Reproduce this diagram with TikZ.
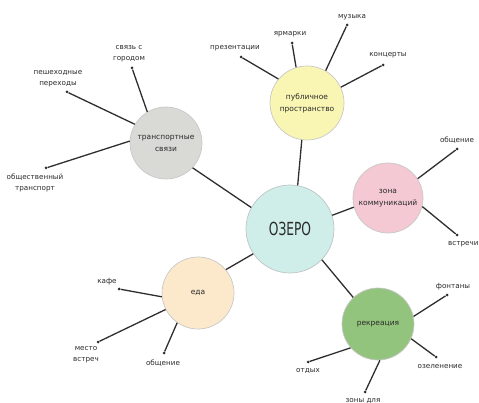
\documentclass[tikz,border=0pt]{standalone}
\usepackage{fontspec}
\setmainfont{DejaVu Sans}
\definecolor{cOzero}{HTML}{CFEEE9}
\definecolor{cPub}{HTML}{F9F5B3}
\definecolor{cZona}{HTML}{F4C9D3}
\definecolor{cRek}{HTML}{93C47D}
\definecolor{cTr}{HTML}{D9D9D6}
\definecolor{cEda}{HTML}{FCE9CC}
\definecolor{cLine}{HTML}{2E2E2E}
\definecolor{cText}{HTML}{2A2A2A}
\definecolor{cBorder}{HTML}{C8C8C8}
\begin{document}
\begin{tikzpicture}[x=1pt,y=-1pt,
  hub/.style={circle,draw=cBorder,line width=0.7pt,inner sep=0pt,align=center,
    text=cText,font=\fontsize{7.5}{12}\selectfont},
  leafdot/.style={circle,fill=cLine,inner sep=0pt,minimum size=3pt},
  leaflabel/.style={align=center,text=cText,inner sep=0pt,font=\fontsize{7.2}{11}\selectfont},
  conn/.style={draw=cLine,line width=1.3pt}]
\useasboundingbox (0,0) rectangle (479,403);
% hubs
\node[hub,fill=cOzero,draw=cOzero!80!black!30!cBorder,minimum size=88pt] (ozero) at (290,229)
  {\fontsize{18}{20}\selectfont\scalebox{0.68}[1]{ОЗЕРО}};
\node[hub,fill=cPub,minimum size=74pt] (pub) at (307,103) {публичное\\пространство};
\node[hub,fill=cZona,minimum size=70pt] (zona) at (388,198) {зона\\коммуникаций};
\node[hub,fill=cRek,minimum size=72pt] (rek) at (378,324) {рекреация};
\node[hub,fill=cTr,minimum size=72pt] (tr) at (166,143) {транспортные\\связи};
\node[hub,fill=cEda,minimum size=72pt] (eda) at (198,293) {еда};
% hub connectors
\draw[conn] (ozero.151) -- (tr.-43);
\draw[conn] (ozero.80) -- (pub.-98);
\draw[conn] (ozero.18) -- (zona.195);
\draw[conn] (ozero.-44) -- (rek.133);
\draw[conn] (ozero.214) -- (eda.40);
% transport leaves
\node[leafdot] (t1) at (132,68) {};
\node[leaflabel] (t1l) at (129,54) {связь с\\городом};
\node[leafdot] (t2) at (67,92) {};
\node[leaflabel] (t2l) at (58,79) {пешеходные\\переходы};
\node[leafdot] (t3) at (46,168) {};
\node[leaflabel] (t3l) at (35,183) {общественный\\транспорт};
\draw[conn] (t1) -- (tr.121);
\draw[conn] (t2) -- (tr.149);
\draw[conn] (t3) -- (tr.177);
% public leaves
\node[leafdot] (p1) at (241,57) {};
\node[leaflabel] (p1l) at (235,48) {презентации};
\node[leafdot] (p2) at (292,43) {};
\node[leaflabel] (p2l) at (290,34) {ярмарки};
\node[leafdot] (p3) at (347,25) {};
\node[leaflabel] (p3l) at (352,17) {музыка};
\node[leafdot] (p4) at (383,65) {};
\node[leaflabel] (p4l) at (388,55) {концерты};
\draw[conn] (p1) -- (pub.140);
\draw[conn] (p2) -- (pub.107);
\draw[conn] (p3) -- (pub.60);
\draw[conn] (p4) -- (pub.25);
% zona leaves
\node[leafdot] (z1) at (457,149) {};
\node[leaflabel] (z1l) at (457,140) {общение};
\node[leafdot] (z2) at (457,235) {};
\node[leaflabel,anchor=west] (z2l) at (448,244) {встречи};
\draw[conn] (z1) -- (zona.33);
\draw[conn] (z2) -- (zona.-14);
% recreation leaves
\node[leafdot] (r1) at (447,295) {};
\node[leaflabel] (r1l) at (453,287) {фонтаны};
\node[leafdot] (r2) at (436,357) {};
\node[leaflabel] (r2l) at (440,367) {озеленение};
\node[leafdot] (r3) at (308,362) {};
\node[leaflabel] (r3l) at (308,371) {отдых};
\node[leafdot] (r4) at (365,392) {};
\node[leaflabel] (r4l) at (363,401) {зоны для};
\draw[conn] (r1) -- (rek.12);
\draw[conn] (r2) -- (rek.-24);
\draw[conn] (r3) -- (rek.221);
\draw[conn] (r4) -- (rek.-87);
% food leaves
\node[leafdot] (e1) at (119,289) {};
\node[leaflabel] (e1l) at (107,282) {кафе};
\node[leafdot] (e2) at (98,342) {};
\node[leaflabel] (e2l) at (86,355) {место\\встреч};
\node[leafdot] (e3) at (164,353) {};
\node[leaflabel] (e3l) at (163,363) {общение};
\draw[conn] (e1) -- (eda.186);
\draw[conn] (e2) -- (eda.207);
\draw[conn] (e3) -- (eda.235);
\end{tikzpicture}
\end{document}
